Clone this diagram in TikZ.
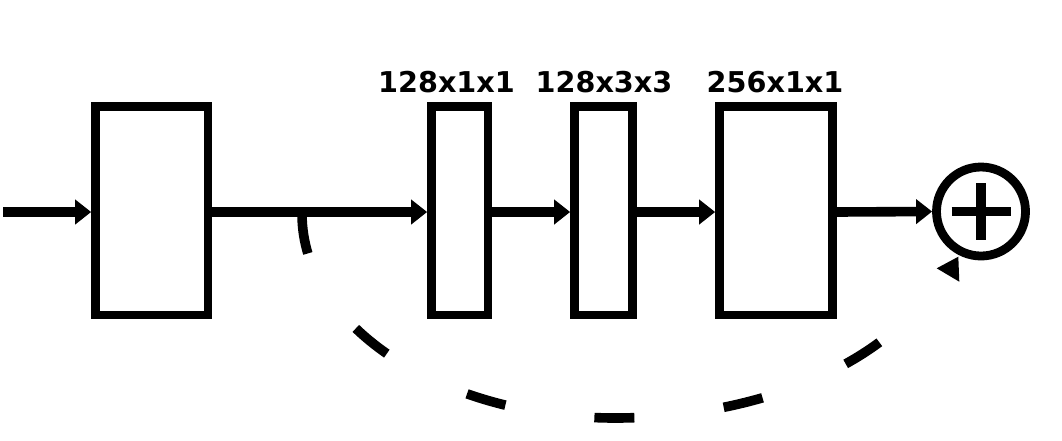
\documentclass[tikz,border=0pt]{standalone}
\usepackage{fontspec}
\setmainfont{DejaVu Sans}
\usetikzlibrary{arrows.meta,calc}
\begin{document}
\begin{tikzpicture}[x=0.75pt,y=-0.75pt,
  blk/.style={draw=black,line width=6.5pt,inner sep=0pt,minimum height=208.5*0.75pt},
  conn/.style={line width=7.2pt,-{Triangle[length=12pt,width=18pt]}},
  lbl/.style={font=\bfseries\fontsize{21.5pt}{24pt}\selectfont,anchor=base,inner sep=0pt},
  skip/.style={line width=7.2pt,dash pattern=on 30pt off 67.5pt},
  sumnode/.style={draw=black,circle,line width=6.6pt,minimum size=89*0.75pt,inner sep=0pt}]
\useasboundingbox (0,0) rectangle (1062,440);
\node[blk,minimum width=112.5*0.75pt] (b1) at (151.75,210.75) {};
\node[blk,minimum width=56.5*0.75pt] (b2) at (459.75,210.75) {};
\node[blk,minimum width=58*0.75pt] (b3) at (603.5,210.75) {};
\node[blk,minimum width=113*0.75pt] (b4) at (776,210.75) {};
\node[sumnode] (sum) at (981,211.5) {};
\draw[line width=7pt] ($(sum.center)+(-29.5,0)$) -- ($(sum.center)+(29.5,0)$);
\draw[line width=7pt] ($(sum.center)+(0,-28.5)$) -- ($(sum.center)+(0,28.5)$);
\node[lbl] (l2) at (446.5,92) {128x1x1};
\node[lbl] (l3) at (604,92) {128x3x3};
\node[lbl] (l4) at (775,92) {256x1x1};
\coordinate (in) at (3,212);
\coordinate (split) at (302,214);
\draw[conn] (in) -- (b1.west |- in);
\draw[conn] (b1.east |- in) -- (b2.west |- in);
\draw[conn] (b2.east |- in) -- (b3.west |- in);
\draw[conn] (b3.east |- in) -- (b4.west |- in);
\draw[conn] (b4.east |- in) -- (sum.west);
\draw[skip] (split) arc[start angle=180,end angle=90,x radius=313,y radius=204]
  arc[start angle=90,end angle=22,x radius=340,y radius=204];
\fill (936.7,268.3) -- (958.3,256.7) -- (959.3,281.7) -- cycle;
\end{tikzpicture}
\end{document}
